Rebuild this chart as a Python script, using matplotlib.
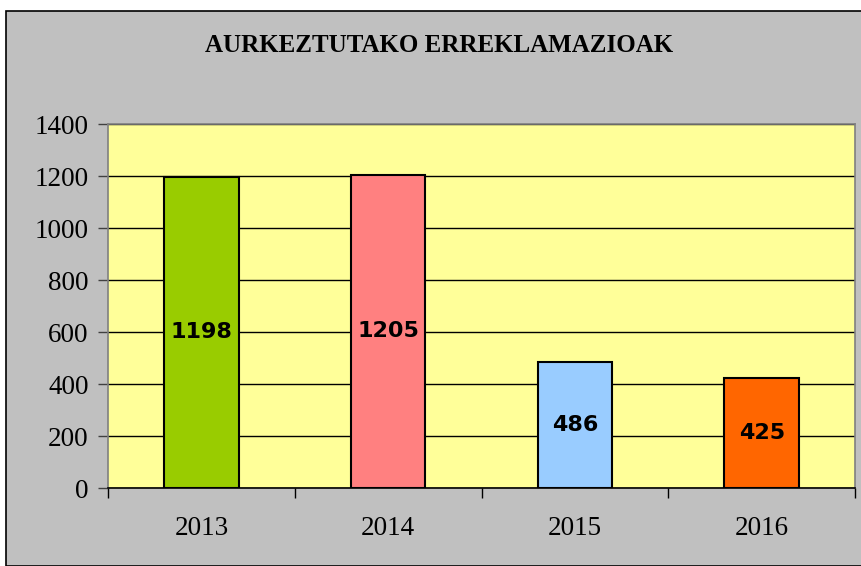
import matplotlib.pyplot as plt
from matplotlib.patches import Rectangle
from matplotlib.ticker import FixedLocator, NullFormatter

years = ["2013", "2014", "2015", "2016"]
claims = [1198, 1205, 486, 425]
bar_colors = ["#99CC00", "#FF8080", "#99CCFF", "#FF6600"]
y_ticks = [0, 200, 400, 600, 800, 1000, 1200, 1400]
title = "AURKEZTUTAKO ERREKLAMAZIOAK"

fig = plt.figure(figsize=(8.61, 5.66), dpi=100, facecolor="white")

# grey chart area with black frame, kept behind the axes
fig.patches.append(Rectangle((6 / 861, 0), 1, 1 - 11 / 566, transform=fig.transFigure,
                             facecolor="#C0C0C0", edgecolor="black", linewidth=1.2, zorder=-10))

ax = fig.add_axes([108 / 861, 78 / 566, 747 / 861, 364 / 566])
ax.set_zorder(1)
ax.set_facecolor("#FFFF99")

x = list(range(len(years)))
ax.bar(x, claims, width=0.4, color=bar_colors, edgecolor="black", linewidth=1.5, zorder=3)

for xi, v in zip(x, claims):
    ax.text(xi, v / 2, str(v), ha="center", va="center", fontsize=16,
            fontweight="bold", family="DejaVu Sans", zorder=4)

ax.set_xlim(-0.5, len(years) - 0.5)
ax.set_ylim(0, 1400)
ax.set_yticks(y_ticks)
ax.set_yticklabels([str(t) for t in y_ticks], family="Liberation Serif", fontsize=19.5)
ax.set_xticks(x)
ax.set_xticklabels(years, family="Liberation Serif", fontsize=19.5)
ax.xaxis.set_minor_locator(FixedLocator([i - 0.5 for i in range(len(years) + 1)]))
ax.xaxis.set_minor_formatter(NullFormatter())
ax.tick_params(axis="x", which="major", length=0, pad=20)
ax.tick_params(axis="x", which="minor", length=7, width=1, color="black")
ax.tick_params(axis="y", length=7, width=1, color="#404040", pad=7)

ax.yaxis.grid(True, color="black", linewidth=1, zorder=1)
ax.set_axisbelow(True)
for side in ["left", "top", "right"]:
    ax.spines[side].set_color("#808080")
    ax.spines[side].set_linewidth(1.2)
ax.spines["bottom"].set_color("black")
ax.spines["bottom"].set_linewidth(1.2)

fig.text(0.51, 1 - 45 / 566, title, ha="center", va="center", fontsize=18,
         fontweight="bold", family="Liberation Serif")

fig.savefig("out.png", dpi=100, facecolor=fig.get_facecolor())
